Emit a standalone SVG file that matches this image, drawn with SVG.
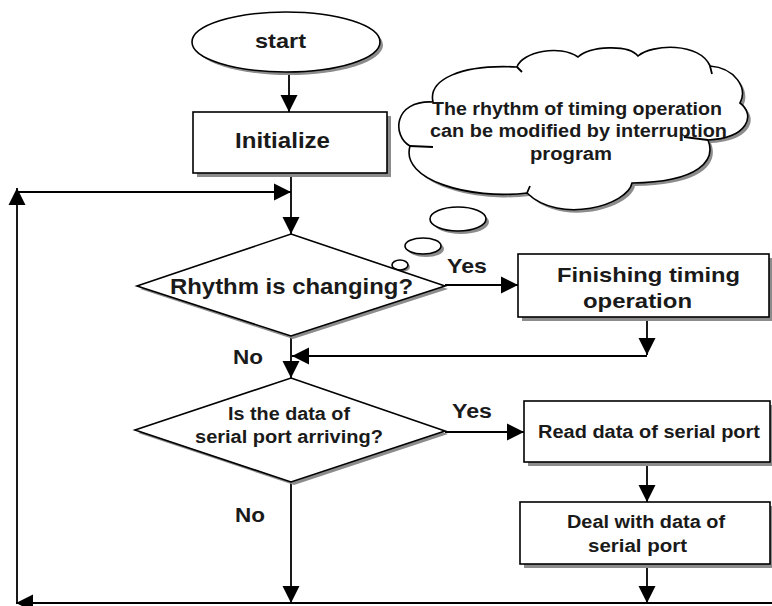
<svg xmlns="http://www.w3.org/2000/svg" width="772" height="606" viewBox="0 0 772 606">
<style>
.sh{fill:#8c8c8c;stroke:none}
.box{fill:#fff;stroke:#000;stroke-width:1.6}
.ln{fill:none;stroke:#000;stroke-width:1.8}
.t{font-family:"Liberation Sans",Arial,sans-serif;font-weight:bold;fill:#1a1a1a}
</style>
<defs>
<marker id="ah" markerUnits="userSpaceOnUse" markerWidth="18" markerHeight="18" refX="17" refY="8.5" orient="auto" viewBox="0 0 18 17">
<path d="M0,0 L17,8.5 L0,17 Z" fill="#000"/>
</marker>
<path id="cloudp" d="M433,102 C428,80 460,64 517,67 C522,52 560,44 578,57 C590,46 628,44 638,56 C652,44 700,42 710,66 C735,68 748,88 740,103 C756,115 748,138 708,140 C716,160 700,182 632,183 C628,205 560,225 527,193 C470,200 400,180 410,146 C392,136 393,100 433,102 Z"/>
</defs>
<rect width="772" height="606" fill="#fff"/>

<g id="connectors">
<line class="ln" x1="289" y1="72" x2="289" y2="112" marker-end="url(#ah)"/>
<line class="ln" x1="291" y1="173" x2="291" y2="234" marker-end="url(#ah)"/>
<polyline class="ln" points="17,603 17,188" marker-end="url(#ah)"/>
<line class="ln" x1="17" y1="192" x2="291" y2="192" marker-end="url(#ah)"/>
<line class="ln" x1="445" y1="285" x2="518" y2="285" marker-end="url(#ah)"/>
<line class="ln" x1="647" y1="317" x2="647" y2="355" marker-end="url(#ah)"/>
<line class="ln" x1="647" y1="356" x2="292" y2="356" marker-end="url(#ah)"/>
<line class="ln" x1="291" y1="336" x2="291" y2="378" marker-end="url(#ah)"/>
<line class="ln" x1="445" y1="432" x2="524" y2="432" marker-end="url(#ah)"/>
<line class="ln" x1="647" y1="462" x2="647" y2="502" marker-end="url(#ah)"/>
<line class="ln" x1="647" y1="564" x2="647" y2="603" marker-end="url(#ah)"/>
<line class="ln" x1="291" y1="482" x2="291" y2="603" marker-end="url(#ah)"/>
<line class="ln" x1="772" y1="603" x2="16" y2="603" marker-end="url(#ah)"/>
<text class="t" x="447" y="273" font-size="21" textLength="40" lengthAdjust="spacingAndGlyphs">Yes</text>
<text class="t" x="233" y="364" font-size="20" textLength="30" lengthAdjust="spacingAndGlyphs">No</text>
<text class="t" x="452" y="418" font-size="20" textLength="40" lengthAdjust="spacingAndGlyphs">Yes</text>
<text class="t" x="235" y="522" font-size="20" textLength="30" lengthAdjust="spacingAndGlyphs">No</text>
</g>

<g id="start">
<ellipse class="sh" cx="289" cy="45" rx="94" ry="30"/>
<ellipse class="box" cx="286" cy="42" rx="94" ry="30"/>
<text class="t" x="255" y="48" font-size="21" textLength="51" lengthAdjust="spacingAndGlyphs">start</text>
</g>

<g id="initialize">
<rect class="sh" x="197" y="116" width="194" height="61"/>
<rect class="box" x="193" y="112" width="194" height="61"/>
<text class="t" x="235" y="148" font-size="22" textLength="95" lengthAdjust="spacingAndGlyphs">Initialize</text>
</g>

<g id="note">
<use href="#cloudp" class="sh" transform="translate(3,3)"/>
<use href="#cloudp" class="box" stroke-width="1.4"/>
<path d="M410,146 L433,147 M708,140 L684,137 M517,67 L522,72 M710,66 L712,74 M527,193 L530,186" class="ln" stroke-width="1.2"/>
<ellipse class="sh" cx="461" cy="222" rx="28" ry="12"/>
<ellipse class="box" cx="458" cy="219" rx="28" ry="12" stroke-width="1.4"/>
<ellipse class="sh" cx="426" cy="249" rx="18" ry="8"/>
<ellipse class="box" cx="423" cy="246" rx="18" ry="8" stroke-width="1.4"/>
<ellipse class="sh" cx="402" cy="267" rx="8" ry="5"/>
<ellipse class="box" cx="400" cy="265" rx="8" ry="5" stroke-width="1.4"/>
<text class="t" x="432" y="115" font-size="18" textLength="290" lengthAdjust="spacingAndGlyphs">The rhythm of timing operation</text>
<text class="t" x="430" y="137" font-size="18" textLength="297" lengthAdjust="spacingAndGlyphs">can be modified by interruption</text>
<text class="t" x="530" y="160" font-size="18" textLength="82" lengthAdjust="spacingAndGlyphs">program</text>
</g>

<g id="rhythm">
<polygon class="sh" points="293,237 448,289 293,339 140,289"/>
<polygon class="box" points="291,234 445,286 291,336 137,286"/>
<text class="t" x="170" y="294" font-size="22" textLength="243" lengthAdjust="spacingAndGlyphs">Rhythm is changing?</text>
</g>

<g id="finishing">
<rect class="sh" x="522" y="258" width="251" height="63"/>
<rect class="box" x="518" y="254" width="251" height="63"/>
<text class="t" x="557" y="282" font-size="21" textLength="183" lengthAdjust="spacingAndGlyphs">Finishing timing</text>
<text class="t" x="583" y="308" font-size="21" textLength="109" lengthAdjust="spacingAndGlyphs">operation</text>
</g>

<g id="serialcheck">
<polygon class="sh" points="294,381 448,434 294,485 138,433"/>
<polygon class="box" points="291,378 445,431 291,482 135,430"/>
<text class="t" x="228" y="420" font-size="18" textLength="122" lengthAdjust="spacingAndGlyphs">Is the data of</text>
<text class="t" x="195" y="443" font-size="18" textLength="188" lengthAdjust="spacingAndGlyphs">serial port arriving?</text>
</g>

<g id="read">
<rect class="sh" x="528" y="405" width="246" height="61"/>
<rect class="box" x="524" y="401" width="246" height="61"/>
<text class="t" x="538" y="438" font-size="18" textLength="222" lengthAdjust="spacingAndGlyphs">Read data of serial port</text>
</g>

<g id="deal">
<rect class="sh" x="524" y="506" width="250" height="62"/>
<rect class="box" x="520" y="502" width="250" height="62"/>
<text class="t" x="567" y="528" font-size="18" textLength="158" lengthAdjust="spacingAndGlyphs">Deal with data of</text>
<text class="t" x="588" y="552" font-size="18" textLength="99" lengthAdjust="spacingAndGlyphs">serial port</text>
</g>
</svg>
